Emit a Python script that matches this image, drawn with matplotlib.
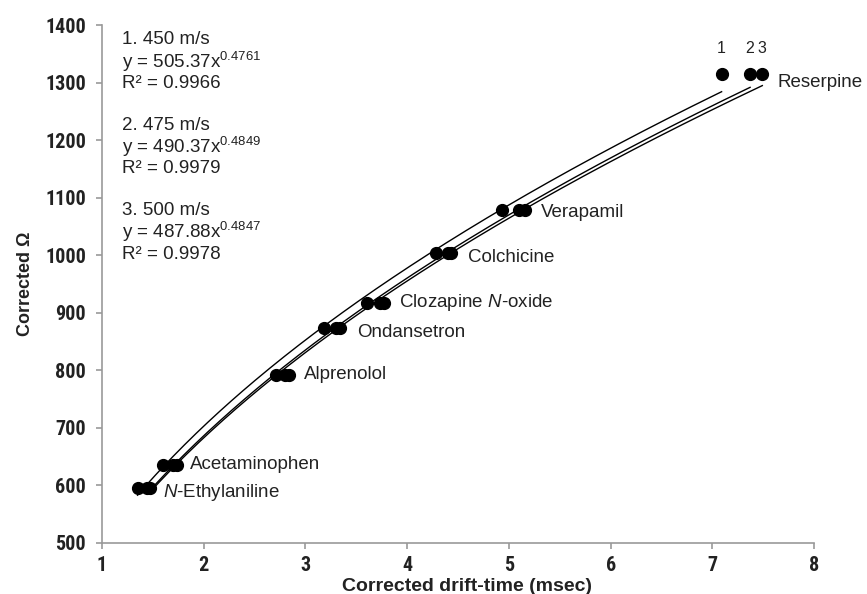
import matplotlib
matplotlib.use("Agg")
import matplotlib.pyplot as plt
import numpy as np

plt.rcParams['font.family'] = ['Liberation Sans', 'DejaVu Sans']
plt.rcParams['mathtext.fontset'] = 'custom'
plt.rcParams['mathtext.rm'] = 'Liberation Sans'
plt.rcParams['mathtext.it'] = 'Liberation Sans:italic'

# ---- data ----
compounds = [r'$\mathit{N}$-Ethylaniline', 'Acetaminophen', 'Alprenolol', 'Ondansetron',
             r'Clozapine $\mathit{N}$-oxide', 'Colchicine', 'Verapamil', 'Reserpine']
omega = [596, 636, 792, 873, 917, 1003, 1078, 1315]
drift_450 = [1.35, 1.60, 2.71, 3.18, 3.60, 4.28, 4.93, 7.09]
drift_475 = [1.44, 1.70, 2.80, 3.30, 3.73, 4.40, 5.10, 7.37]
drift_500 = [1.47, 1.74, 2.84, 3.34, 3.77, 4.43, 5.16, 7.49]
fit_a = [505.37, 490.37, 487.88]
fit_b = [0.4761, 0.4849, 0.4847]
r2 = ['0.9966', '0.9979', '0.9978']
speeds = ['450 m/s', '475 m/s', '500 m/s']
series_ids = ['1', '2', '3']
x_ticks = [1, 2, 3, 4, 5, 6, 7, 8]
y_ticks = [500, 600, 700, 800, 900, 1000, 1100, 1200, 1300, 1400]

label_offsets = [(13, -5), (13, 0), (15, 0), (17, -4), (15, 0), (17, -4), (16, -2), (15, -9)]
TXT = '#222222'
AXC = '#999999'

fig = plt.figure(figsize=(8.67, 5.94), dpi=100)
ax = fig.add_axes([0.1176, 0.0859, 0.8215, 0.872])

all_drift = [drift_450, drift_475, drift_500]
for d, a, b in zip(all_drift, fit_a, fit_b):
    xs = np.linspace(min(d), max(d), 200)
    ax.plot(xs, a * xs ** b, color='black', lw=1.0, zorder=2)
for d in all_drift:
    ax.plot(d, omega, 'o', color='black', ms=8.5, zorder=3, linestyle='none')

for name, x, y, off in zip(compounds, drift_500, omega, label_offsets):
    ax.annotate(name, (x, y), xytext=off, textcoords='offset pixels',
                ha='left', va='center', fontsize=13.5, color=TXT)

for sid, d in zip(series_ids, all_drift):
    ax.annotate(sid, (d[-1], omega[-1]), xytext=(0, 25), textcoords='offset pixels',
                ha='center', va='center', fontsize=11.5, color=TXT)

# trendline equations
y0 = 1374
for i in range(3):
    base = y0 - i * 148
    ax.text(1.2, base, f'{i+1}. {speeds[i]}', fontsize=13.5, va='center', color=TXT)
    ax.text(1.2, base - 38, r'y = %.2fx$^{\mathrm{%.4f}}$' % (fit_a[i], fit_b[i]),
            fontsize=13.5, va='center', color=TXT)
    ax.text(1.2, base - 76, f'R² = {r2[i]}', fontsize=13.5, va='center', color=TXT)

ax.set_xlim(1, 8)
ax.set_ylim(500, 1400)
ax.set_xticks(x_ticks)
ax.set_yticks(y_ticks)
for s in ['top', 'right']:
    ax.spines[s].set_visible(False)
for s in ['left', 'bottom']:
    ax.spines[s].set_color(AXC)
    ax.spines[s].set_linewidth(1.2)
ax.tick_params(axis='y', direction='out', length=4, color=AXC, width=1.2, pad=7.5)
ax.tick_params(axis='x', direction='out', length=4, color=AXC, width=1.2, pad=5.5)
for lab in ax.get_xticklabels() + ax.get_yticklabels():
    lab.set_fontfamily('Roboto Condensed')
    lab.set_fontweight('bold')
    lab.set_fontsize(14.5)
    lab.set_color(TXT)

ax.set_xlabel('Corrected drift-time (msec)', fontsize=14, fontweight='bold', color=TXT)
ax.xaxis.set_label_coords(0.513, -0.067)
ax.set_ylabel('Corrected Ω', fontsize=13, fontweight='bold', color=TXT)
ax.yaxis.set_label_coords(-0.095, 0.5)

fig.savefig('out.png', dpi=100)
